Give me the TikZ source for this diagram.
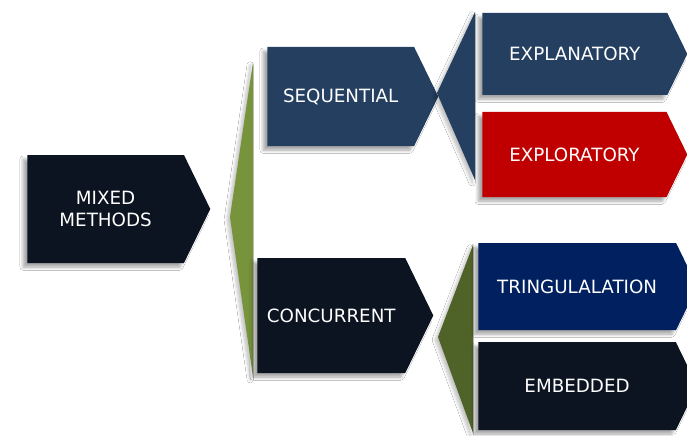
\documentclass[tikz,border=0pt]{standalone}
\usepackage{fontspec}
\setmainfont{DejaVu Sans}
\usepackage{xcolor}
\usepackage{tikz}
\usetikzlibrary{shapes.symbols,shadows.blur,calc}
\definecolor{mmDark}{HTML}{0B1420}
\definecolor{mmSlate}{HTML}{243F60}
\definecolor{mmRed}{HTML}{C00000}
\definecolor{mmNavy}{HTML}{002060}
\definecolor{mmGreen}{HTML}{77933C}
\definecolor{mmOlive}{HTML}{4F6228}
\tikzset{
  arr/.style={shape=signal, signal to=east, signal from=nowhere, signal pointer angle=128,
    draw=none, text=white, align=center, inner sep=0pt, anchor=west, font=\fontsize{13}{15}\selectfont,
    minimum width=#1, blur shadow={shadow xshift=-3pt, shadow yshift=-3pt, shadow blur steps=8, shadow opacity=35}},
  arr/.default={4.4cm},
  dark/.style={fill=mmDark},
  slate/.style={fill=mmSlate},
  red/.style={fill=mmRed},
  navy/.style={fill=mmNavy},
  brace/.style={blur shadow={shadow xshift=-2pt, shadow yshift=-2pt, shadow blur steps=6, shadow opacity=25}},
}
\begin{document}
\begin{tikzpicture}
\clip (0,0) rectangle (17.175,10.875);
\fill[white] (0,0) rectangle (17.175,10.875);
% --- brackets
\fill[mmGreen, brace] (6.325,9.325) -- (5.75,5.45) -- (6.325,1.45) -- cycle;
\fill[mmOlive, brace] (11.825,4.75) -- (10.95,2.45) -- (11.825,0.05) -- cycle;
% --- first level
\node[arr=4.575cm, dark, minimum height=2.7cm] (mixed) at (0.675,5.65) {MIXED\\METHODS};
\node[arr=4.275cm, slate, minimum height=2.475cm] (seq) at (6.675,8.4625) {SEQUENTIAL};
\node[arr=4.4cm, dark, minimum height=2.875cm] (conc) at (6.425,2.9875) {CONCURRENT};
\fill[mmSlate, brace] (11.875,10.575) -- (10.925,8.55) -- (11.875,6.375) -- cycle;
% --- second level
\node[arr=5.125cm, slate, minimum height=2.05cm] (expn) at (12.05,9.525) {EXPLANATORY};
\node[arr=5.125cm, red, minimum height=2.125cm] (expr) at (12.05,7.0125) {EXPLORATORY};
\node[arr=5.475cm, navy, minimum height=2.175cm] (tri) at (11.95,3.7125) {TRINGULALATION};
\node[arr=5.475cm, dark, minimum height=2.2cm] (emb) at (11.95,1.225) {EMBEDDED};
\end{tikzpicture}
\end{document}
